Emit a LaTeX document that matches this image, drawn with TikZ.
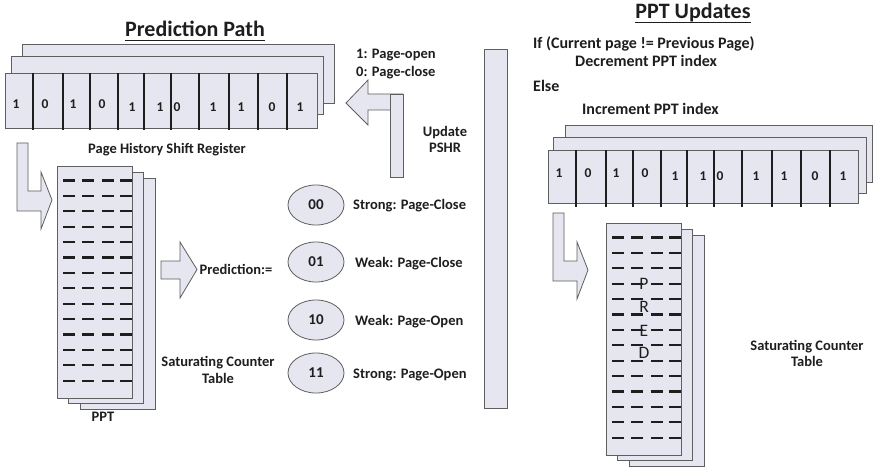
\documentclass[tikz,border=0pt]{standalone}
\usepackage{fontspec}
\setmainfont{Carlito}
\usetikzlibrary{shapes.geometric}

\definecolor{panel}{RGB}{229,230,239}
\definecolor{edge}{RGB}{95,95,95}
\definecolor{ink}{RGB}{30,30,30}

\tikzset{
  layer/.style={draw=edge, fill=panel, line width=0.9pt},
  divider/.style={draw=ink, line width=1.1pt},
  dashrow/.style={draw=ink, line width=2.1pt},
  blockarrow/.style={draw=edge, fill=panel, line width=0.8pt, line join=miter},
  lbl/.style={font=\bfseries\fontsize{14.5}{16.5}\selectfont, text=ink, inner sep=0pt},
  lblbig/.style={font=\bfseries\fontsize{16}{18}\selectfont, text=ink, inner sep=0pt},
  bit/.style={font=\bfseries\fontsize{13.5}{15}\selectfont, text=ink, inner sep=0pt},
  heading/.style={font=\bfseries\fontsize{22}{26}\selectfont, text=ink, inner sep=0pt},
  letter/.style={font=\fontsize{17.5}{19}\selectfont, text=ink, inner sep=0pt},
  state/.style={ellipse, draw=edge, fill=panel, line width=0.8pt,
    minimum width=56pt, minimum height=40pt, inner sep=0pt,
    font=\bfseries\fontsize{15}{17}\selectfont, text=ink},
}

% stacked table of counters: front sheet at (#1,#2), two sheets behind it
\newcommand\pptstack[2]{%
  \begin{scope}[shift={(#1,#2)}]
    \draw[layer] (23,12) rectangle (98,243);
    \draw[layer] (11,6) rectangle (86,237);
    \draw[layer] (0,0) rectangle (75,232);
    \foreach \i in {0,...,13}
      \foreach \xa in {6,25,45,63}
        \draw[dashrow] (\xa,14.5+15.4*\i) -- (\xa+11.5,14.5+15.4*\i);
  \end{scope}}

% bent block arrow: vertical bar turning right into an arrow head
\newcommand\bentarrow[2]{%
  \draw[blockarrow] (#1,#2) -- ++(11,0) -- ++(0,48) -- ++(13,0) -- ++(0,-19)
    -- ++(11,28) -- ++(-11,29) -- ++(0,-18) -- ++(-24,0) -- cycle;}

% shift register row with its dividers and bits
\newcommand\bitrow[1]{%
  \foreach \d in {28,58,85,113,139,166,194,224,253,282}
    \draw[divider] (\d,0) -- (\d,57);
  \foreach \d/\v/\dy [count=\k] in {11/1/0,40/0/0,68/1/0,97/0/0,127/1/3,155/1/3,
      172/0/3,208/1/3,236/1/3,267/0/3,295/1/3}
    \node[bit] (bit\k) at (\d,#1+\dy) {\v};}

\begin{document}
\begin{tikzpicture}[x=1pt,y=-1pt]
\useasboundingbox (0,0) rectangle (874,470);
\fill[white] (0,0) rectangle (874,470);

% ---------------- prediction path ----------------
\node[heading, anchor=base] (predtitle) at (195,37) {Prediction Path};
\draw[ink, line width=1pt] ([yshift=-3.5pt]predtitle.base west) -- ([yshift=-3.5pt]predtitle.base east);

\begin{scope}[shift={(5,73)}]
  \draw[layer] (17,-29) rectangle (329,30);
  \draw[layer] (6,-17) rectangle (318,41);
  \draw[layer] (0,0) rectangle (312,55);
  \bitrow{31}
\end{scope}
\node[lbl, anchor=base] (pshr) at (167,154) {Page History Shift Register};

\node[lbl, anchor=base west] (code1) at (356,59) {1: Page-open};
\node[lbl, anchor=base west] (code0) at (356,77) {0: Page-close};

% update arrow back into the register
\draw[blockarrow] (403,94) -- (368,94) -- (368,80) -- (346,103) -- (368,125)
  -- (368,110) -- (403,110);
\draw[layer, line width=0.8pt] (390,94) rectangle (403,177);
\node[lbl, align=center] (upd) at (445,139.5) {Update\\PSHR};

\bentarrow{17}{143}
\pptstack{57}{166}
\node[lbl, anchor=base] (ppt) at (103,421) {PPT};

\draw[blockarrow] (161,261) -- (180,261) -- (180,242) -- (197,269.5) -- (180,298)
  -- (180,279) -- (161,279) -- cycle;
\node[lbl, anchor=base] (pred) at (236,274) {Prediction:=};
\node[lbl, align=center] (satl) at (218,370) {Saturating Counter\\Table};

\node[state] (s00) at (316,205) {00};
\node[state] (s01) at (316,262) {01};
\node[state] (s10) at (316,320) {10};
\node[state] (s11) at (316,373) {11};
\node[lbl, anchor=base west] (t00) at (353,210) {Strong: Page-Close};
\node[lbl, anchor=base west] (t01) at (355,267) {Weak: Page-Close};
\node[lbl, anchor=base west] (t10) at (355,325) {Weak: Page-Open};
\node[lbl, anchor=base west] (t11) at (353,378) {Strong: Page-Open};

% separator bar
\draw[layer] (484,49) rectangle (507,408);

% ---------------- PPT updates ----------------
\node[heading, anchor=base] (updtitle) at (693,19) {PPT Updates};
\draw[ink, line width=1pt] ([yshift=-3.5pt]updtitle.base west) -- ([yshift=-3.5pt]updtitle.base east);

\node[lblbig, anchor=base west] (if) at (533,49) {If (Current page != Previous Page)};
\node[lblbig, anchor=base west] (dec) at (575,67) {Decrement PPT index};
\node[lblbig, anchor=base west] (else) at (533,92) {Else};
\node[lblbig, anchor=base west] (inc) at (582,115) {Increment PPT index};

\begin{scope}[shift={(548,150)}]
  \draw[layer] (17,-25) rectangle (324,32);
  \draw[layer] (5,-13) rectangle (318,43);
  \draw[layer] (0,0) rectangle (310,53);
  \bitrow{23}
\end{scope}

\bentarrow{553}{213}
\pptstack{606}{223}
\node[letter] (lp) at (644,284) {P};
\node[letter] (lr) at (644,307) {R};
\node[letter] (le) at (644,331) {E};
\node[letter] (ld) at (644,353) {D};

\node[lbl, align=center] (satr) at (807,353.5) {Saturating Counter\\Table};
\end{tikzpicture}
\end{document}
